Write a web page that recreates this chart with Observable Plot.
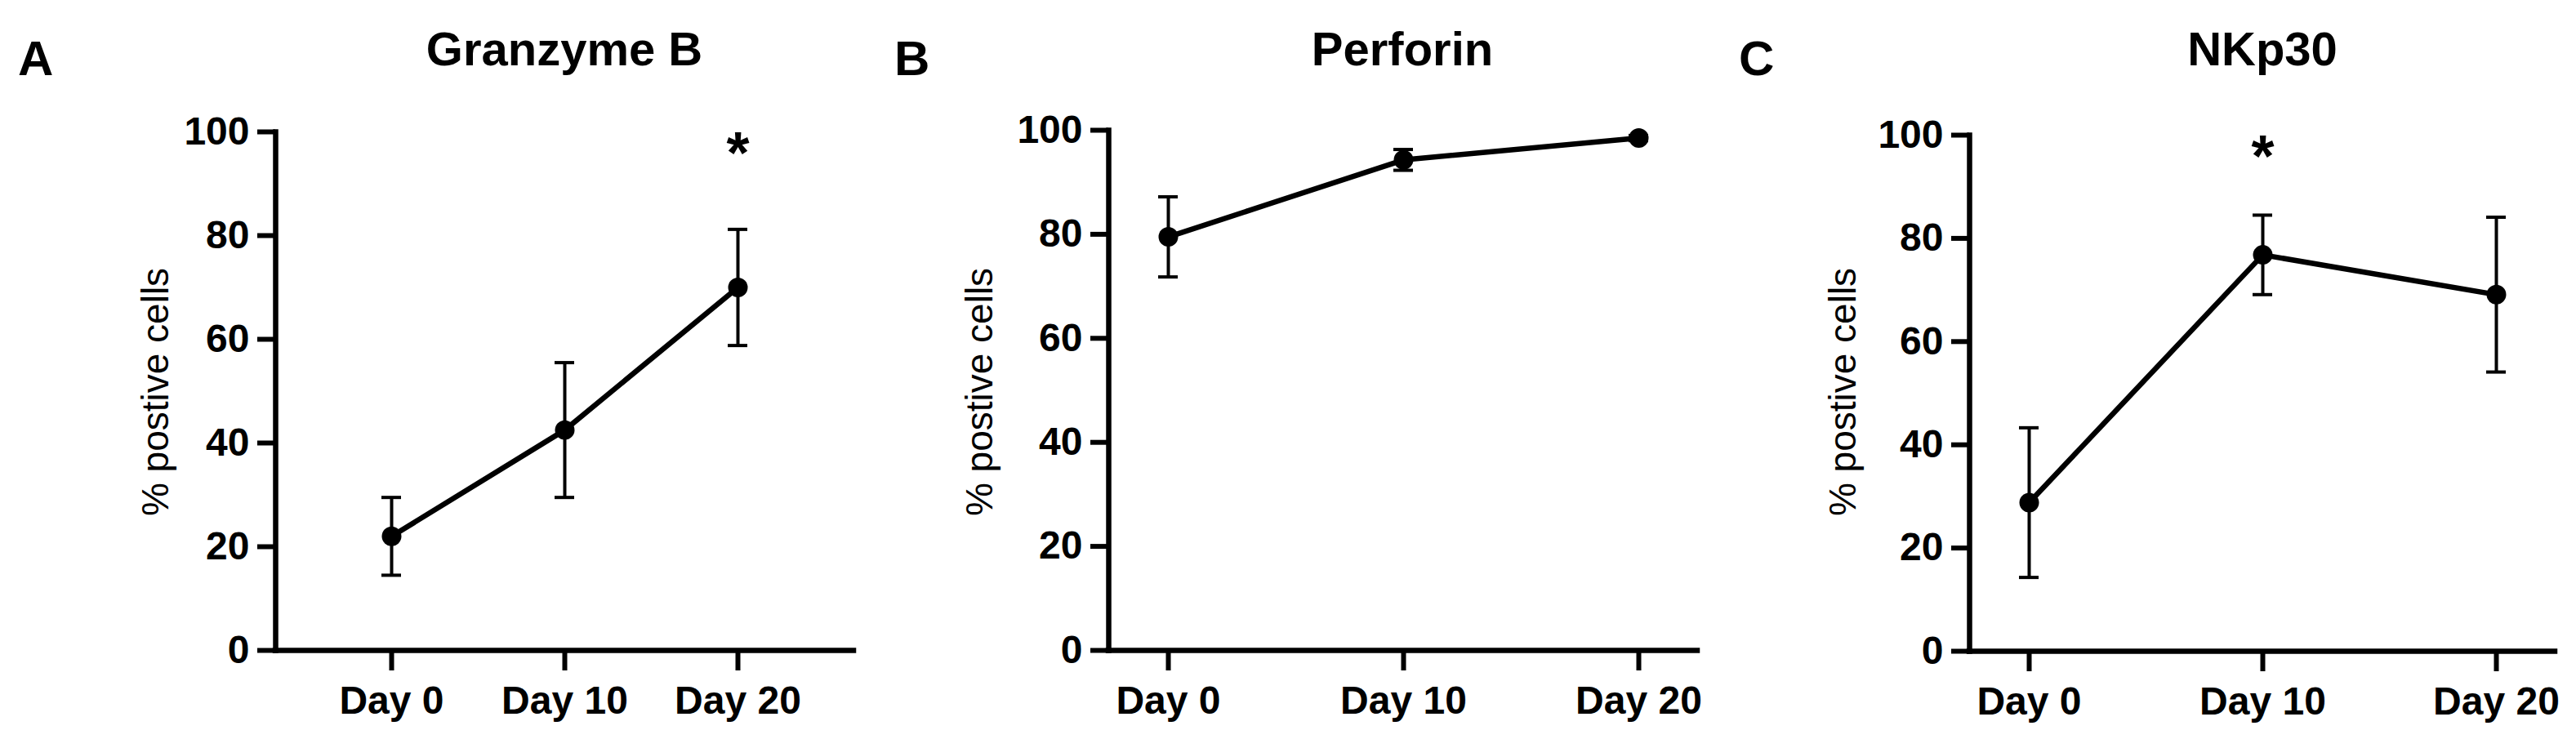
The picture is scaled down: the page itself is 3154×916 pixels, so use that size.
<!DOCTYPE html>
<html>
<head>
<meta charset="utf-8">
<script src="https://cdn.jsdelivr.net/npm/d3@7"></script>
<script src="https://cdn.jsdelivr.net/npm/@observablehq/plot@0.6"></script>
<style>
  html, body { margin: 0; padding: 0; background: #fff; }
  #wrap { position: relative; width: 3154px; height: 916px; background: #fff; overflow: hidden;
          font-family: "Liberation Sans", Arial, Helvetica, sans-serif; color: #000; }
  .panel { position: absolute; top: 0; }
  .letter, .title { position: absolute; font-weight: bold; line-height: 1; white-space: nowrap; }
  .letter { font-size: 60px; }
  .title { font-size: 58px; transform: translateX(-50%); }
  .ylab { position: absolute; font-size: 46px; line-height: 1; white-space: nowrap;
          transform: translate(-50%, -50%) rotate(-90deg); }
  svg text { fill: #000; }
  [aria-label$="tick label"] { font-weight: bold; }
</style>
</head>
<body>
<div id="wrap"></div>
<script>
// ---- data ----
const days = ["Day 0", "Day 10", "Day 20"];
const yTicks = [0, 20, 40, 60, 80, 100];
const panelLetters = ["A", "B", "C"];
const panelTitles = ["Granzyme B", "Perforin", "NKp30"];
const yLabel = "% postive cells";

const granzymeMean = [22.0, 42.5, 70.0];
const granzymeSD   = [7.5, 13.0, 11.2];
const granzymeSig  = ["", "", "*"];

const perforinMean = [79.5, 94.3, 98.5];
const perforinSD   = [7.7, 2.0, 0.5];
const perforinSig  = ["", "", ""];

const nkp30Mean = [28.8, 76.8, 69.1];
const nkp30SD   = [14.5, 7.7, 15.0];
const nkp30Sig  = ["", "*", ""];

// ---- layout (pixels) ----
const layouts = [
  {left: 0,    width: 1050, marginLeft: 337, marginRight: 5,  marginTop: 161, marginBottom: 120, padding: 2/3,
   letterX: 22, titleX: 691, ylabX: 190},
  {left: 1050, width: 1050, marginLeft: 307, marginRight: 22, marginTop: 159, marginBottom: 120, padding: 0.25,
   letterX: 1095, titleX: 1717, ylabX: 1199},
  {left: 2100, width: 1054, marginLeft: 311, marginRight: 26, marginTop: 165, marginBottom: 119, padding: 0.25,
   letterX: 2129, titleX: 2770, ylabX: 2256}
];
const series = [
  [granzymeMean, granzymeSD, granzymeSig],
  [perforinMean, perforinSD, perforinSig],
  [nkp30Mean, nkp30SD, nkp30Sig]
];

const wrap = document.getElementById("wrap");
const font = "'Liberation Sans', Arial, Helvetica, sans-serif";

series.forEach(([means, sds, sig], k) => {
  const L = layouts[k];
  const data = days.map((d, i) => ({day: d, mean: means[i], sd: sds[i], sig: sig[i]}));
  const chart = Plot.plot({
    width: L.width,
    height: 916,
    marginLeft: L.marginLeft,
    marginRight: L.marginRight,
    marginTop: L.marginTop,
    marginBottom: L.marginBottom,
    style: {fontFamily: font, background: "transparent", color: "black", overflow: "visible"},
    x: {type: "point", domain: days, padding: L.padding, label: null},
    y: {domain: [0, 100], label: null},
    marks: [
      Plot.ruleY([0], {stroke: "black", strokeWidth: 6.5, strokeLinecap: "square"}),
      Plot.frame({anchor: "left", stroke: "black", strokeWidth: 6.5, strokeLinecap: "square"}),
      Plot.axisY({ticks: yTicks, tickSize: 22, tickPadding: 10, strokeWidth: 6,
                  fontSize: 48, fontWeight: "bold", label: null, tickFormat: d => String(d)}),
      Plot.axisX({tickSize: 25, tickPadding: 18, strokeWidth: 6,
                  fontSize: 48, fontWeight: "bold", label: null}),
      Plot.ruleX(data, {x: "day", y1: d => d.mean - d.sd, y2: d => d.mean + d.sd, stroke: "black", strokeWidth: 4}),
      Plot.ruleY(data, {x1: "day", x2: "day", y: d => d.mean + d.sd, insetLeft: -12, insetRight: -12, stroke: "black", strokeWidth: 4}),
      Plot.ruleY(data, {x1: "day", x2: "day", y: d => d.mean - d.sd, insetLeft: -12, insetRight: -12, stroke: "black", strokeWidth: 4}),
      Plot.line(data, {x: "day", y: "mean", stroke: "black", strokeWidth: 6.5}),
      Plot.dot(data, {x: "day", y: "mean", r: 12, fill: "black", stroke: "none"}),
      Plot.text(data.filter(d => d.sig), {x: "day", text: "sig", frameAnchor: "top", lineAnchor: "middle", dy: 27,
                fontSize: 72, fontWeight: "bold", fill: "black", fontFamily: font})
    ]
  });
  chart.classList.add("panel");
  chart.style.left = L.left + "px";
  wrap.appendChild(chart);

  const letter = document.createElement("div");
  letter.className = "letter";
  letter.textContent = panelLetters[k];
  letter.style.left = L.letterX + "px";
  letter.style.top = "42px";
  wrap.appendChild(letter);

  const title = document.createElement("div");
  title.className = "title";
  title.textContent = panelTitles[k];
  title.style.left = L.titleX + "px";
  title.style.top = "31px";
  wrap.appendChild(title);

  const yl = document.createElement("div");
  yl.className = "ylab";
  yl.textContent = yLabel;
  yl.style.left = L.ylabX + "px";
  yl.style.top = "480px";
  wrap.appendChild(yl);
});
</script>
</body>
</html>
